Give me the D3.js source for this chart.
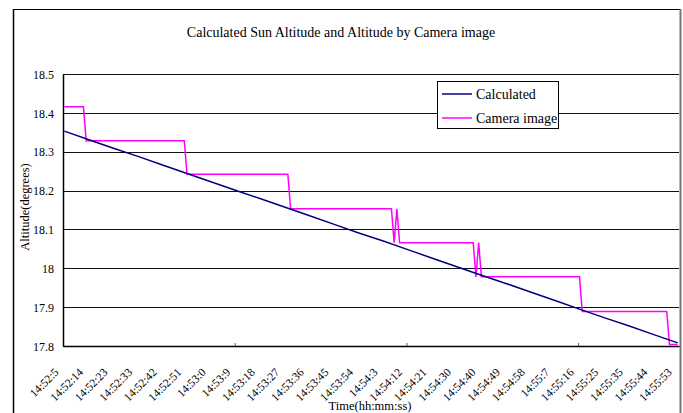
<!DOCTYPE html>
<html><head><meta charset="utf-8">
<script src="https://cdn.jsdelivr.net/npm/d3@7"></script>
<style>
body{margin:0;background:#fff;}
svg{display:block;font-family:"Liberation Serif","Times New Roman",serif;}
</style></head>
<body>
<svg id="chart" width="683" height="413"></svg>
<script>
// ---- data ----
const categoryCount = 226; // time samples on the category axis
const tickLabels = ["14:52:5","14:52:14","14:52:23","14:52:33","14:52:42","14:52:51","14:53:0","14:53:9","14:53:18","14:53:27","14:53:36","14:53:45","14:53:54","14:54:3","14:54:12","14:54:21","14:54:30","14:54:40","14:54:49","14:54:58","14:55:7","14:55:16","14:55:25","14:55:35","14:55:44","14:55:53"];
const tickLabelIndex = [0,9,18,27,36,45,54,63,72,81,90,99,108,117,126,135,144,153,162,171,180,189,198,207,216,225];
const calculatedIndex = [0,9,18,27,36,45,54,63,72,81,90,99,108,117,126,135,144,153,162,171,180,189,198,207,216,225];
const calculatedValues = [18.353,18.331,18.309,18.288,18.266,18.244,18.222,18.200,18.179,18.157,18.135,18.113,18.091,18.070,18.048,18.026,18.004,17.982,17.961,17.939,17.917,17.895,17.873,17.852,17.830,17.808];
const cameraIndex = [0,7,8,44,45,82,83,120,121,122,123,150,151,152,153,189,190,221,222,225];
const cameraValues = [18.416,18.416,18.328,18.328,18.242,18.242,18.153,18.153,18.066,18.153,18.066,18.066,17.978,18.066,17.978,17.978,17.889,17.889,17.804,17.804];
const yTicks = [18.5,18.4,18.3,18.2,18.1,18.0,17.9,17.8];
const yTickLabels = ["18.5","18.4","18.3","18.2","18.1","18","17.9","17.8"];
const axisTickIndex = [63,126,189];
const seriesNames = ["Calculated","Camera image"];
const seriesColors = ["#000080","#ff00ff"];

// ---- layout ----
const svg = d3.select("#chart");
const L = 63, R = 679, T = 74, B = 346;

// outer frame
svg.append("line").attr("x1",13.5).attr("x2",13.5).attr("y1",9).attr("y2",413).attr("stroke","#000").attr("stroke-width",1.5);
svg.append("line").attr("x1",13).attr("x2",680).attr("y1",9.5).attr("y2",9.5).attr("stroke","#000").attr("stroke-width",1);
svg.append("line").attr("x1",680.5).attr("x2",680.5).attr("y1",9).attr("y2",413).attr("stroke","#777").attr("stroke-width",2);

const x = d3.scaleBand().domain(d3.range(categoryCount)).range([L,R]).paddingInner(0).paddingOuter(0);
const xc = i => x(i) + x.bandwidth()/2;
const xl = d3.scaleLinear().domain([0,categoryCount]).range([L,R]);
const y = d3.scaleLinear().domain([17.8,18.5]).range([B,T]);

// title
svg.append("text").attr("x",341).attr("y",37).attr("text-anchor","middle")
  .attr("font-size",14).attr("fill","#000").text("Calculated Sun Altitude and Altitude by Camera image");

// gridlines
const grid = svg.append("g").attr("transform",`translate(${L},0)`)
  .call(d3.axisLeft(y).tickValues(yTicks).tickSize(-(R-L)).tickFormat(""));
grid.select(".domain").remove();
grid.selectAll("line").attr("stroke","#111").attr("stroke-width",1).attr("shape-rendering","crispEdges");

// y axis
const ya = svg.append("g").attr("transform",`translate(${L},0)`)
  .call(d3.axisLeft(y).tickValues(yTicks).tickSize(0).tickPadding(9).tickFormat((d,i)=>yTickLabels[i]));
ya.select(".domain").attr("stroke","#000").attr("stroke-width",1.5);
ya.selectAll("text").attr("font-size",12).attr("font-family","Liberation Serif").attr("fill","#000").attr("dy","0.35em");

// x axis tick marks (inside)
const xt = svg.append("g").attr("transform",`translate(0,${B})`)
  .call(d3.axisBottom(xl).tickValues(axisTickIndex).tickSizeInner(-3).tickSizeOuter(0).tickFormat(""));
xt.select(".domain").attr("stroke","#000").attr("stroke-width",1.5);
xt.selectAll(".tick line").attr("stroke","#555");

// x labels
const xa = svg.append("g").attr("transform",`translate(0,${B})`)
  .call(d3.axisBottom(x).tickValues(tickLabelIndex).tickSize(0).tickFormat((d,i)=>tickLabels[i]));
xa.select(".domain").remove();
xa.selectAll("text").attr("font-size",11.5).attr("font-family","Liberation Serif").attr("fill","#000")
  .attr("text-anchor","end").attr("dy",0).attr("y",0)
  .attr("transform","translate(-5,27) rotate(-45)");

// axis titles
svg.append("text").attr("x",370).attr("y",410).attr("text-anchor","middle").attr("font-size",12.5).text("Time(hh:mm:ss)");
svg.append("text").attr("transform","translate(29,207) rotate(-90)").attr("text-anchor","middle").attr("font-size",12.5).text("Altitude(degrees)");

// lines
const line = d3.line().x(d=>xc(d[0])).y(d=>y(d[1]));
const calc = calculatedIndex.map((d,i)=>[d,calculatedValues[i]]);
const cam = cameraIndex.map((d,i)=>[d,cameraValues[i]]);
svg.append("path").datum(cam).attr("d",line).attr("fill","none").attr("stroke",seriesColors[1]).attr("stroke-width",1.5);
svg.append("path").datum(calc).attr("d",line).attr("fill","none").attr("stroke",seriesColors[0]).attr("stroke-width",1.5);

// legend
const lg = svg.append("g");
lg.append("rect").attr("x",437.5).attr("y",81.5).attr("width",121).attr("height",47).attr("fill","#fff").attr("stroke","#000").attr("stroke-width",1);
seriesNames.forEach((n,i)=>{
  const yy = 94 + i*24;
  lg.append("line").attr("x1",442).attr("x2",472).attr("y1",yy).attr("y2",yy).attr("stroke",seriesColors[i]).attr("stroke-width",1.5);
  lg.append("text").attr("x",476).attr("y",yy+5).attr("font-size",14).attr("fill","#000").text(n);
});
</script>
</body></html>
